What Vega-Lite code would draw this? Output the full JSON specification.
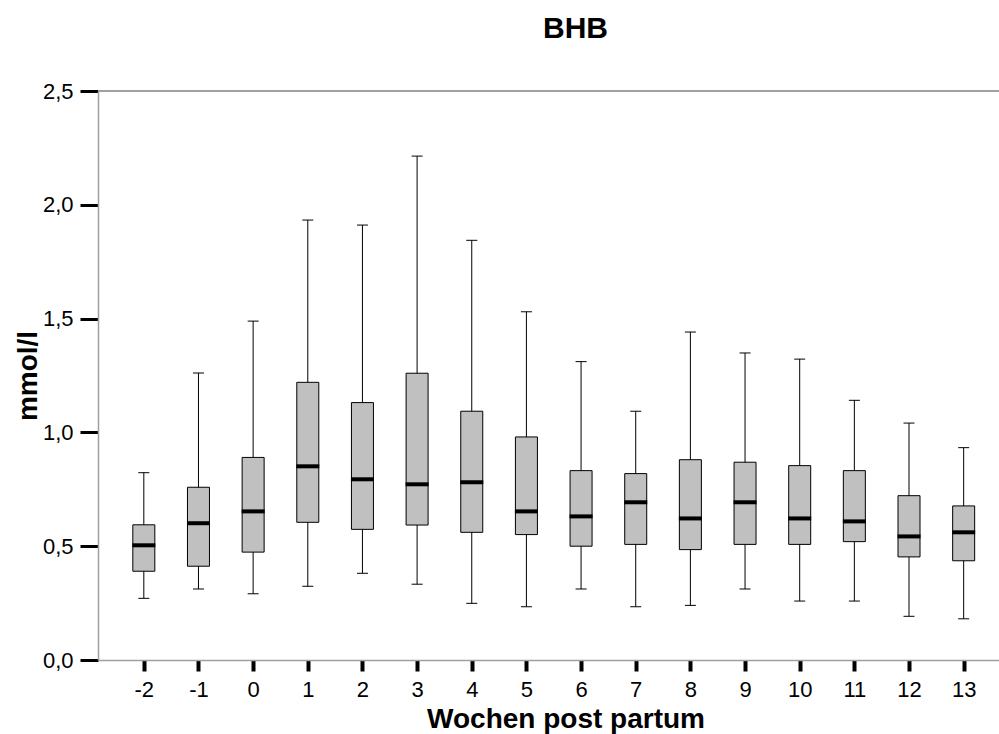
{
  "$schema": "https://vega.github.io/schema/vega-lite/v6.json",
  "width": 901,
  "height": 569,
  "autosize": "none",
  "padding": {"left": 98, "top": 91, "right": 0, "bottom": 74},
  "config": {
    "view": {"stroke": null},
    "font": "Liberation Sans",
    "background": "white"
  },
  "title": {
    "text": "BHB",
    "fontSize": 30,
    "fontWeight": "bold",
    "font": "Liberation Sans",
    "color": "black",
    "anchor": "middle",
    "frame": "group",
    "baseline": "alphabetic",
    "offset": 12,
    "dx": 27
  },
  "data": {
    "values": [
      {"week": -2, "min": 0.271, "q1": 0.390, "med": 0.504, "q3": 0.594, "max": 0.823},
      {"week": -1, "min": 0.312, "q1": 0.412, "med": 0.601, "q3": 0.759, "max": 1.261},
      {"week": 0, "min": 0.291, "q1": 0.474, "med": 0.653, "q3": 0.890, "max": 1.489},
      {"week": 1, "min": 0.324, "q1": 0.605, "med": 0.851, "q3": 1.220, "max": 1.933},
      {"week": 2, "min": 0.381, "q1": 0.574, "med": 0.794, "q3": 1.131, "max": 1.911},
      {"week": 3, "min": 0.333, "q1": 0.593, "med": 0.772, "q3": 1.260, "max": 2.214},
      {"week": 4, "min": 0.249, "q1": 0.561, "med": 0.781, "q3": 1.093, "max": 1.844},
      {"week": 5, "min": 0.234, "q1": 0.551, "med": 0.653, "q3": 0.980, "max": 1.530},
      {"week": 6, "min": 0.312, "q1": 0.500, "med": 0.631, "q3": 0.832, "max": 1.311},
      {"week": 7, "min": 0.234, "q1": 0.508, "med": 0.693, "q3": 0.819, "max": 1.093},
      {"week": 8, "min": 0.240, "q1": 0.485, "med": 0.622, "q3": 0.880, "max": 1.441},
      {"week": 9, "min": 0.312, "q1": 0.508, "med": 0.693, "q3": 0.869, "max": 1.349},
      {"week": 10, "min": 0.259, "q1": 0.508, "med": 0.622, "q3": 0.854, "max": 1.322},
      {"week": 11, "min": 0.259, "q1": 0.520, "med": 0.609, "q3": 0.832, "max": 1.141},
      {"week": 12, "min": 0.192, "q1": 0.453, "med": 0.543, "q3": 0.722, "max": 1.041},
      {"week": 13, "min": 0.181, "q1": 0.436, "med": 0.561, "q3": 0.677, "max": 0.933}
    ]
  },
  "encoding": {
    "x": {
      "field": "week",
      "type": "quantitative",
      "scale": {"domain": [-2.747, 13.555], "nice": false, "zero": false},
      "axis": {
        "values": [-2, -1, 0, 1, 2, 3, 4, 5, 6, 7, 8, 9, 10, 11, 12, 13],
        "labelExpr": "'' + datum.value",
        "grid": false,
        "domainColor": "#a0a0a0",
        "domainWidth": 1.5,
        "tickColor": "black",
        "tickWidth": 4,
        "tickSize": 11,
        "labelPadding": 8,
        "labelFontSize": 22,
        "labelFont": "Liberation Sans",
        "labelColor": "black",
        "title": "Wochen post partum",
        "titleFontSize": 28,
        "titleFontWeight": "bold",
        "titleFont": "Liberation Sans",
        "titleColor": "black",
        "titleX": 467.5,
        "titleY": 67,
        "titleAlign": "center",
        "titleBaseline": "alphabetic"
      }
    }
  },
  "layer": [
    {
      "mark": {"type": "rule", "color": "#a0a0a0", "strokeWidth": 1.5},
      "encoding": {"x": null, "y": {"datum": 2.5, "type": "quantitative", "scale": {"domain": [0, 2.5], "nice": false}}}
    },
    {
      "mark": {"type": "rule", "color": "black", "strokeWidth": 1},
      "encoding": {
        "y": {
          "field": "min",
          "type": "quantitative",
          "scale": {"domain": [0, 2.5], "nice": false},
          "axis": {
            "values": [0, 0.5, 1, 1.5, 2, 2.5],
            "labelExpr": "replace(format(datum.value, '.1f'), '.', ',')",
            "grid": false,
            "domainColor": "#a0a0a0",
            "domainWidth": 1.5,
            "tickColor": "black",
            "tickWidth": 3,
            "tickSize": 18,
            "labelPadding": 7,
            "labelFontSize": 22,
            "labelFont": "Liberation Sans",
            "labelColor": "black",
            "title": "mmol/l",
            "titleFontSize": 28,
            "titleFontWeight": "bold",
            "titleFont": "Liberation Sans",
            "titleColor": "black",
            "titleAngle": 270,
            "titleX": -62,
            "titleY": 284.5,
            "titleAlign": "center",
            "titleBaseline": "alphabetic"
          }
        },
        "y2": {"field": "max"}
      }
    },
    {
      "mark": {"type": "tick", "orient": "horizontal", "color": "black", "opacity": 1, "size": 11, "thickness": 1},
      "encoding": {"y": {"field": "min", "type": "quantitative"}}
    },
    {
      "mark": {"type": "tick", "orient": "horizontal", "color": "black", "opacity": 1, "size": 11, "thickness": 1},
      "encoding": {"y": {"field": "max", "type": "quantitative"}}
    },
    {
      "mark": {"type": "bar", "size": 22, "fill": "#c0c0c0", "stroke": "black", "strokeWidth": 1, "opacity": 1},
      "encoding": {
        "y": {"field": "q1", "type": "quantitative"},
        "y2": {"field": "q3"}
      }
    },
    {
      "mark": {"type": "tick", "orient": "horizontal", "color": "black", "opacity": 1, "size": 23, "thickness": 4},
      "encoding": {"y": {"field": "med", "type": "quantitative"}}
    }
  ]
}
